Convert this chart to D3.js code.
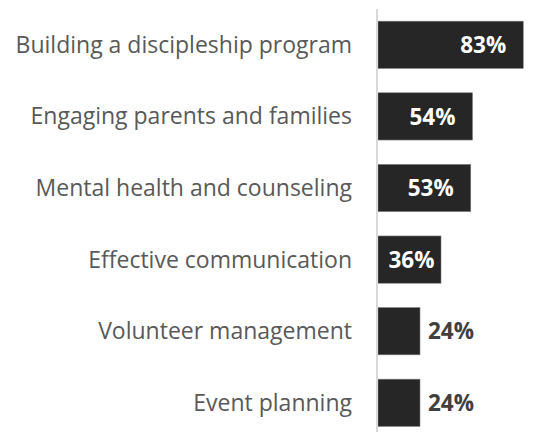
<!DOCTYPE html>
<html lang="en">
<head>
<meta charset="UTF-8">
<title>Chart</title>
<style>
  body { margin: 0; background: #fff; }
</style>
</head>
<body>
<script src="https://d3js.org/d3.v7.min.js"></script>
<script>
  const categories = [
    "Building a discipleship program",
    "Engaging parents and families",
    "Mental health and counseling",
    "Effective communication",
    "Volunteer management",
    "Event planning"
  ];
  const values = [83, 54, 53, 36, 24, 24];

  const w = 543, h = 432;
  const x0 = 378;

  const svg = d3.select("body").append("svg")
    .attr("width", w)
    .attr("height", h)
    .style("font-family", "'Open Sans', sans-serif");

  const x = d3.scaleLinear().domain([0, 100]).range([x0, 553]);
  const y = d3.scaleBand().domain(categories).range([9, 438.6]).paddingInner(0.34).paddingOuter(0.17);

  const data = categories.map((c, i) => ({ cat: c, val: values[i] }));

  // bars
  svg.selectAll("rect.bar").data(data).enter().append("rect")
    .attr("class", "bar")
    .attr("x", x(0))
    .attr("y", d => y(d.cat))
    .attr("width", d => x(d.val) - x(0))
    .attr("height", y.bandwidth())
    .attr("fill", "#262626")
    .attr("stroke", "#7f7f7f")
    .attr("stroke-width", 0.6);

  // axis line
  svg.append("line")
    .attr("x1", x0 - 1).attr("x2", x0 - 1)
    .attr("y1", 9).attr("y2", 432)
    .attr("stroke", "#d9d9d9")
    .attr("stroke-width", 2);

  // category labels
  svg.selectAll("text.cat").data(data).enter().append("text")
    .attr("class", "cat")
    .attr("x", 352)
    .attr("y", d => y(d.cat) + y.bandwidth() / 2)
    .attr("dy", "0.35em")
    .attr("text-anchor", "end")
    .attr("fill", "#595959")
    .style("font-size", "23px")
    .text(d => d.cat);

  // value labels
  const vl = svg.selectAll("text.val").data(data).enter().append("text")
    .attr("class", "val")
    .attr("y", d => y(d.cat) + y.bandwidth() / 2)
    .attr("dy", "0.36em")
    .style("font-size", "22.5px")
    .style("font-weight", "bold")
    .text(d => d.val + "%");

  vl.each(function (d) {
    const t = d3.select(this);
    const tw = this.getComputedTextLength();
    const end = x(d.val);
    const barW = end - x(0);
    if (tw + 10 > barW) {
      t.attr("x", end + 8).attr("text-anchor", "start").attr("fill", "#404040");
    } else if (tw + 34 > barW) {
      t.attr("x", x(0) + barW / 2 + 2).attr("text-anchor", "middle").attr("fill", "#fff");
    } else {
      t.attr("x", end - 17).attr("text-anchor", "end").attr("fill", "#fff");
    }
  });
</script>
</body>
</html>
